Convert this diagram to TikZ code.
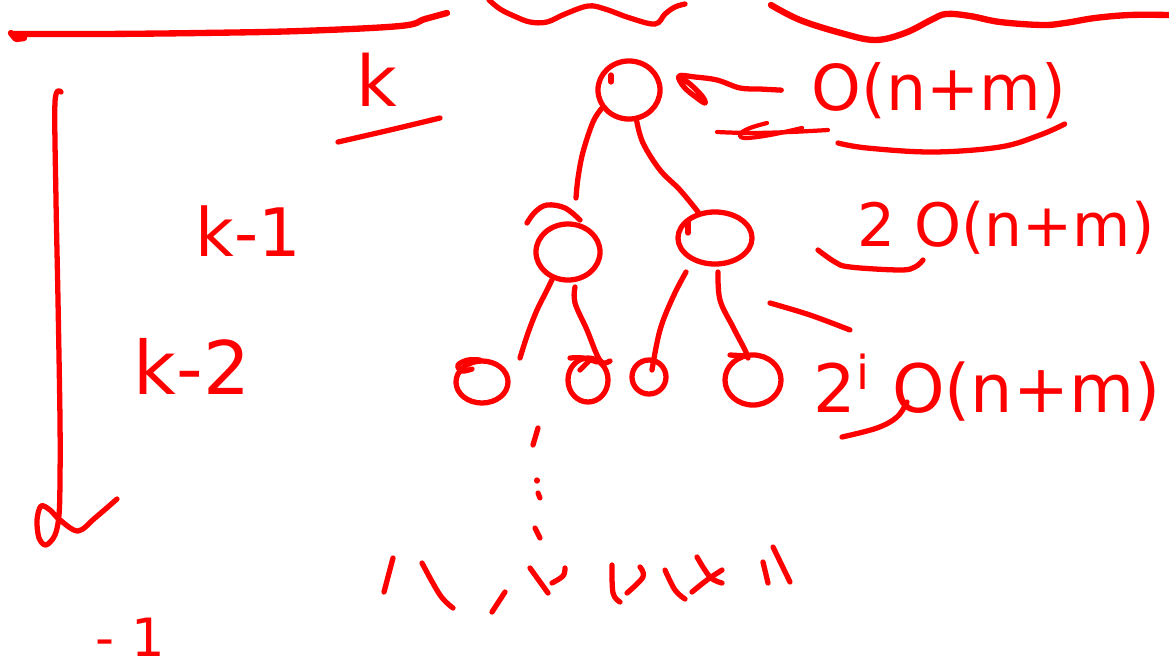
\documentclass[tikz,border=0pt]{standalone}
\usepackage{fontspec}
\setmainfont{DejaVu Sans}
\usetikzlibrary{shapes.geometric,calc}
\tikzset{
  ink/.style={draw=red, line width=1.5pt, line cap=round, line join=round},
  heavyink/.style={ink, line width=1.8pt},
  lightink/.style={ink, line width=1.2pt},
  circ/.style={ellipse, draw=red, line width=1.5pt, inner sep=0pt},
  lbl/.style={text=red, inner sep=0pt, anchor=base},
}
\begin{document}
\begin{tikzpicture}[x=0.01cm,y=-0.01cm]
\useasboundingbox (0,0) rectangle (1169,666);

% ---- top strokes ----
\draw[heavyink] plot[smooth, tension=0.6] coordinates {(13,34) (100,34) (200,33) (300,31) (400,26) (425,19) (447,13)};
\draw[heavyink] (11,33) -- (16,39) -- (24,38);
\draw[ink] plot[smooth, tension=0.6] coordinates {(489,0) (500,9) (514,16) (530,22) (547,22) (565,14) (588,6) (605,9) (630,18) (655,24) (665,14) (675,7) (685,4)};
\draw[heavyink] plot[smooth, tension=0.6] coordinates {(771,5) (800,20) (841,33) (875,40) (905,33) (931,20) (946,14) (970,16) (1000,22) (1042,25) (1065,23) (1095,18) (1130,15) (1169,15)};

% ---- left vertical arrow ----
\draw[ink] plot[smooth, tension=0.55] coordinates {(61,92) (55,102) (56,200) (58,300) (60,420) (60,480) (59,515) (55,535) (46,545) (39,538) (37,520) (41,506) (50,510) (60,520) (78,531) (95,518) (117,499)};

% ---- labels ----
\node[lbl, font=\fontsize{20}{24}\selectfont] (k0) at (377,106) {k};
\draw[ink] plot[smooth, tension=0.5] coordinates {(338,142) (390,130) (440,118)};
\node[lbl, font=\fontsize{19}{22}\selectfont] (k1) at (248,256) {k-1};
\node[lbl, font=\fontsize{21}{24}\selectfont] (k2) at (192,394) {k-2};
\node[lbl, font=\fontsize{15}{18}\selectfont] (m1) at (130,656) {- 1};

\node[lbl, font=\fontsize{18}{22}\selectfont] (c0) at (939,110) {O(n+m)};
\node[lbl, font=\fontsize{17}{20}\selectfont] (cA) at (1006,246) {2 O(n+m)};
\node[lbl, font=\fontsize{19}{22}\selectfont] (cB) at (987,412) {2\textsuperscript{i} O(n+m)};

% ---- tree nodes ----
\node[circ, minimum width=0.62cm, minimum height=0.58cm] (root) at (629,90) {};
\node[circ, minimum width=0.64cm, minimum height=0.56cm] (c1) at (568,252) {};
\node[circ, minimum width=0.74cm, minimum height=0.52cm] (c2) at (715,238) {};
\node[circ, minimum width=0.52cm, minimum height=0.42cm] (g1) at (482,382) {};
\node[circ, minimum width=0.40cm, minimum height=0.44cm] (g2) at (588,380) {};
\node[circ, minimum width=0.34cm, minimum height=0.34cm] (g3) at (649,377) {};
\node[circ, minimum width=0.56cm, minimum height=0.50cm] (g4) at (753,380) {};

% flourishes on the circles
\draw[ink] ($(root)+(-18,-15)$) -- ($(root)+(-18,-8)$);
\draw[ink] plot[smooth, tension=0.6] coordinates {($(c1)+(-41,-29)$) ($(c1)+(-33,-40)$) ($(c1)+(-21,-47)$) ($(c1)+(-3,-44)$) ($(c1)+(12,-32)$)};
\draw[ink] ($(c2)+(-27,-16)$) -- ($(c2)+(-27,-5)$);
\draw[ink] plot[smooth, tension=0.6] coordinates {($(g1)+(-10,-13)$) ($(g1)+(-20,-11)$) ($(g1)+(-24,-17)$) ($(g1)+(-14,-22)$) ($(g1)+(-2,-22)$)};
\draw[ink] plot[smooth, tension=0.6] coordinates {($(g2)+(-18,-22)$) ($(g2)+(-5,-22)$) ($(g2)+(9,-18)$)};
\draw[ink] ($(g2)+(-8,-10)$) -- ($(g2)+(2,-20)$);
\draw[ink] ($(g4)+(-23,-25)$) -- ($(g4)+(-6,-24)$);

% ---- tree edges ----
\draw[ink] plot[smooth, tension=0.6] coordinates {(root.214) (593,122) (583,152) (578,178) ($(c1)+(8,-54)$)};
\draw[ink] plot[smooth, tension=0.6] coordinates {(root.-76) (643,143) (660,170) (680,190) (c2.123)};
\draw[ink] plot[smooth, tension=0.6] coordinates {(c1.-120) (545,294) (537,310) (528,333) ($(g1)+(38,-24)$)};
\draw[ink] plot[smooth, tension=0.6] coordinates {($(c1)+(7,35)$) (575,303) (587,330) (597,355) (603,363) ($(g2)+(22,-19)$)};
\draw[ink] plot[smooth, tension=0.6] coordinates {($(c2)+(-29,34)$) (673,297) (660,330) ($(g3)+(3,-7)$)};
\draw[ink] plot[smooth, tension=0.6] coordinates {($(c2)+(3,34)$) (720,300) (733,327) (745,350) ($(g4)+(-5,-22)$)};

% ---- arrows / marks around cost labels ----
\draw[ink] plot[smooth, tension=0.6] coordinates {($(c0.west)+(-30,0)$) (760,89) (740,88) (717,80) (695,77) (679,76) (684,87) (697,98) (705,103) (702,96) (690,84) (681,78)};
\draw[lightink] plot[smooth, tension=0.6] coordinates {(828,130) (790,132) (750,133) (717,132)};
\draw[lightink] plot[smooth, tension=0.6] coordinates {(802,128) (770,135) (745,138) (740,134) (750,128) (767,123)};
\draw[ink] plot[smooth, tension=0.6] coordinates {(838,143) (867,148) (933,152) (1000,147) (1040,135) ($(c0.base east)+(-2,14)$)};
\draw[ink] plot[smooth, tension=0.6] coordinates {(818,250) (835,262) (850,267) (900,270) (915,267) (923,260)};
\draw[ink] plot[smooth, tension=0.6] coordinates {(842,437) (877,428) (897,417) (907,402)};
\draw[ink] plot[smooth, tension=0.6] coordinates {(770,303) (810,315) (850,330)};

% ---- vertical dots ----
\draw[ink] (538,428) -- (533,445);
\draw[ink] (537,480) -- (537,481);
\draw[ink] (538,493) -- (540,498);
\draw[ink] (535,528) -- (540,538);

% ---- bottom scribbles ----
\draw[ink] (393,558) -- (384,592);
\draw[ink] plot[smooth, tension=0.6] coordinates {(422,563) (440,595) (453,608)};
\draw[ink] (505,592) -- (492,612);
\draw[ink] (530,568) -- (548,593);
\draw[ink] plot[smooth, tension=0.6] coordinates {(552,583) (563,576) (565,568)};
\draw[ink] plot[smooth, tension=0.6] coordinates {(612,565) (613,593) (620,602)};
\draw[ink] plot[smooth, tension=0.6] coordinates {(627,593) (643,577) (640,567)};
\draw[ink] plot[smooth, tension=0.6] coordinates {(665,570) (675,590) (685,599)};
\draw[ink] plot[smooth, tension=0.6] coordinates {(697,557) (710,577) (722,583)};
\draw[ink] plot[smooth, tension=0.6] coordinates {(722,570) (707,580) (692,592)};
\draw[ink] (763,562) -- (768,583);
\draw[ink] (773,547) -- (790,582);
\end{tikzpicture}
\end{document}
